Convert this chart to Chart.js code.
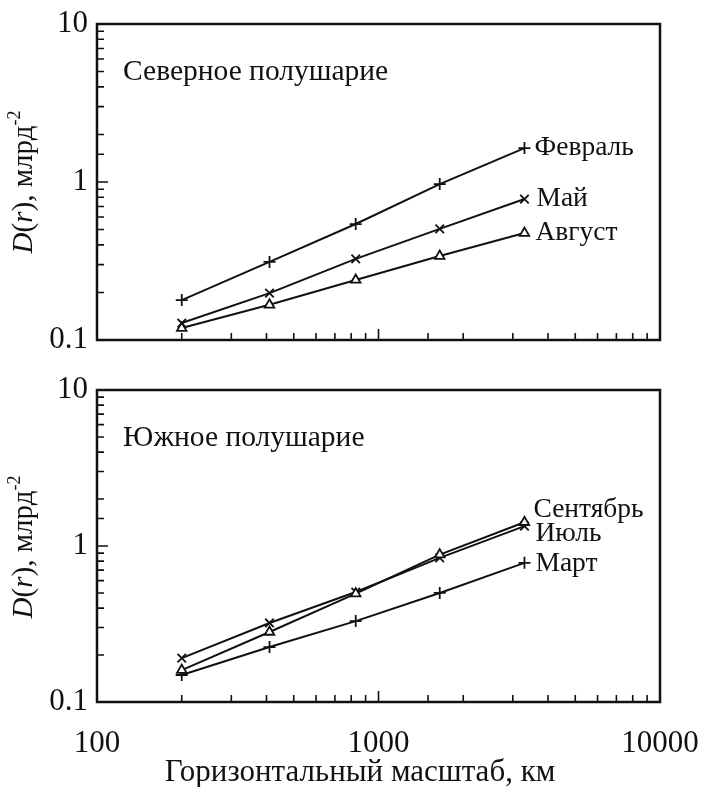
<!DOCTYPE html>
<html lang="ru">
<head>
  <meta charset="UTF-8">
  <title>D(r) — Северное и Южное полушарие</title>
  <script src="https://cdn.jsdelivr.net/npm/chart.js"></script>
  <style>
    body {
      margin: 0;
      background: #fff;
      width: 704px;
      height: 787px;
      position: relative;
      overflow: hidden;
      font-family: "Liberation Serif", "Times New Roman", serif;
      color: #111;
    }
    canvas { position: absolute; left: 0; }
    #topChart { top: 0; }
    #bottomChart { top: 365px; }

    /* rotated y axis label, one per panel */
    .ylabel {
      position: absolute;
      width: 300px;
      left: -128px;
      text-align: center;
      font-size: 29px;
      line-height: 30px;
      transform: rotate(-90deg);
      white-space: nowrap;
    }
    .ylabel sup { font-size: 18px; vertical-align: 12px; line-height: 0; }

    .xlabel {
      position: absolute;
      top: 755px;
      left: 60px;
      width: 600px;
      text-align: center;
      font-size: 31px;
      line-height: 32px;
      white-space: nowrap;
    }
  </style>
</head>
<body>
  <canvas id="topChart" width="704" height="365"></canvas>
  <canvas id="bottomChart" width="704" height="422"></canvas>

  <div class="ylabel" style="top:167px"><i>D</i>(<i>r</i>), млрд<sup>-2</sup></div>
  <div class="ylabel" style="top:532px"><i>D</i>(<i>r</i>), млрд<sup>-2</sup></div>
  <div class="xlabel">Горизонтальный масштаб, км</div>

  <script>
    // horizontal scale, km
    const scalesKm = [200, 410, 830, 1650, 3300];

    // Northern hemisphere
    const febValues = [0.179, 0.312, 0.542, 0.97, 1.64];
    const mayValues = [0.128, 0.198, 0.326, 0.505, 0.78];
    const augValues = [0.119, 0.167, 0.24, 0.34, 0.475];

    // Southern hemisphere
    const sepValues = [0.16, 0.281, 0.495, 0.88, 1.42];
    const julValues = [0.191, 0.321, 0.507, 0.84, 1.34];
    const marValues = [0.149, 0.225, 0.33, 0.50, 0.78];

    const xTickLabels = [100, 1000, 10000];
    const yTickLabels = [0.1, 1, 10];

    const INK = '#111';
    const FONT = '"Liberation Serif", "Times New Roman", serif';

    function isDecade(v) {
      const l = Math.log10(v);
      return Math.abs(l - Math.round(l)) < 1e-9;
    }

    function series(label, values, marker, labelOffset) {
      return {
        label: label,
        data: values.map((v, i) => ({ x: scalesKm[i], y: v })),
        borderColor: INK,
        borderWidth: 2,
        pointStyle: marker,
        pointRadius: marker === 'triangle' ? 5.5 : 6,
        pointBorderWidth: 1.8,
        pointBorderColor: INK,
        pointBackgroundColor: '#fff',
        tension: 0,
        labelOffset: labelOffset
      };
    }

    // frame, inward tick marks and the text drawn inside the plot
    const decorations = {
      id: 'decorations',
      afterDraw(chart, args, opts) {
        const { ctx, chartArea: a, scales } = chart;
        ctx.save();
        ctx.strokeStyle = INK;
        ctx.lineWidth = 1.6;
        ctx.beginPath();
        scales.x.ticks.forEach(t => {
          const px = scales.x.getPixelForValue(t.value);
          const len = isDecade(t.value) ? 11 : 7;
          ctx.moveTo(px, a.bottom);
          ctx.lineTo(px, a.bottom - len);
        });
        scales.y.ticks.forEach(t => {
          const py = scales.y.getPixelForValue(t.value);
          const len = isDecade(t.value) ? 11 : 7;
          ctx.moveTo(a.left, py);
          ctx.lineTo(a.left + len, py);
        });
        ctx.stroke();

        ctx.lineWidth = 2.5;
        ctx.strokeRect(a.left, a.top, a.right - a.left, a.bottom - a.top);

        // panel title
        ctx.fillStyle = INK;
        ctx.textBaseline = 'middle';
        ctx.textAlign = 'left';
        ctx.font = '29.5px ' + FONT;
        ctx.fillText(opts.title, a.left + 26, a.top + 48);

        // series names next to the last point
        ctx.font = '27.5px ' + FONT;
        chart.data.datasets.forEach((ds, i) => {
          const pts = chart.getDatasetMeta(i).data;
          const last = pts[pts.length - 1];
          const [dx, dy] = ds.labelOffset;
          ctx.fillText(ds.label, last.x + dx, last.y + dy);
        });
        ctx.restore();
      }
    };

    function makeChart(id, datasets, title, showX, pad) {
      return new Chart(document.getElementById(id), {
        type: 'line',
        data: { datasets: datasets },
        plugins: [decorations],
        options: {
          responsive: false,
          animation: false,
          layout: { padding: pad },
          plugins: {
            legend: { display: false },
            tooltip: { enabled: false },
            decorations: { title: title }
          },
          scales: {
            x: {
              type: 'logarithmic',
              min: 100,
              max: 10000,
              grid: { display: false, drawTicks: false },
              border: { display: false },
              ticks: {
                display: showX,
                autoSkip: false,
                maxRotation: 0,
                padding: 23,
                color: INK,
                font: { family: FONT, size: 31 },
                callback: v => xTickLabels.includes(v) ? String(v) : ''
              },
              afterFit: s => {
                s.height = showX ? 85 : 0;
                s.paddingLeft = 0;
                s.paddingRight = 0;
              }
            },
            y: {
              type: 'logarithmic',
              min: 0.1,
              max: 10,
              grid: { display: false, drawTicks: false },
              border: { display: false },
              ticks: {
                autoSkip: false,
                padding: 9,
                color: INK,
                font: { family: FONT, size: 31 },
                callback: v => yTickLabels.some(t => Math.abs(t - v) < 1e-9) ? String(v) : ''
              },
              afterFit: s => {
                s.width = 97;
                s.paddingTop = 0;
                s.paddingBottom = 0;
              }
            }
          }
        }
      });
    }

    makeChart('topChart', [
      series('Февраль', febValues, 'cross', [10, 0]),
      series('Май', mayValues, 'crossRot', [12, 0]),
      series('Август', augValues, 'triangle', [11, 0])
    ], 'Северное полушарие', false, { left: 0, right: 44, top: 24, bottom: 25 });

    makeChart('bottomChart', [
      series('Сентябрь', sepValues, 'triangle', [9, -12]),
      series('Июль', julValues, 'crossRot', [11, 8]),
      series('Март', marValues, 'cross', [11, 1])
    ], 'Южное полушарие', true, { left: 0, right: 44, top: 25, bottom: 0 });
  </script>
</body>
</html>
